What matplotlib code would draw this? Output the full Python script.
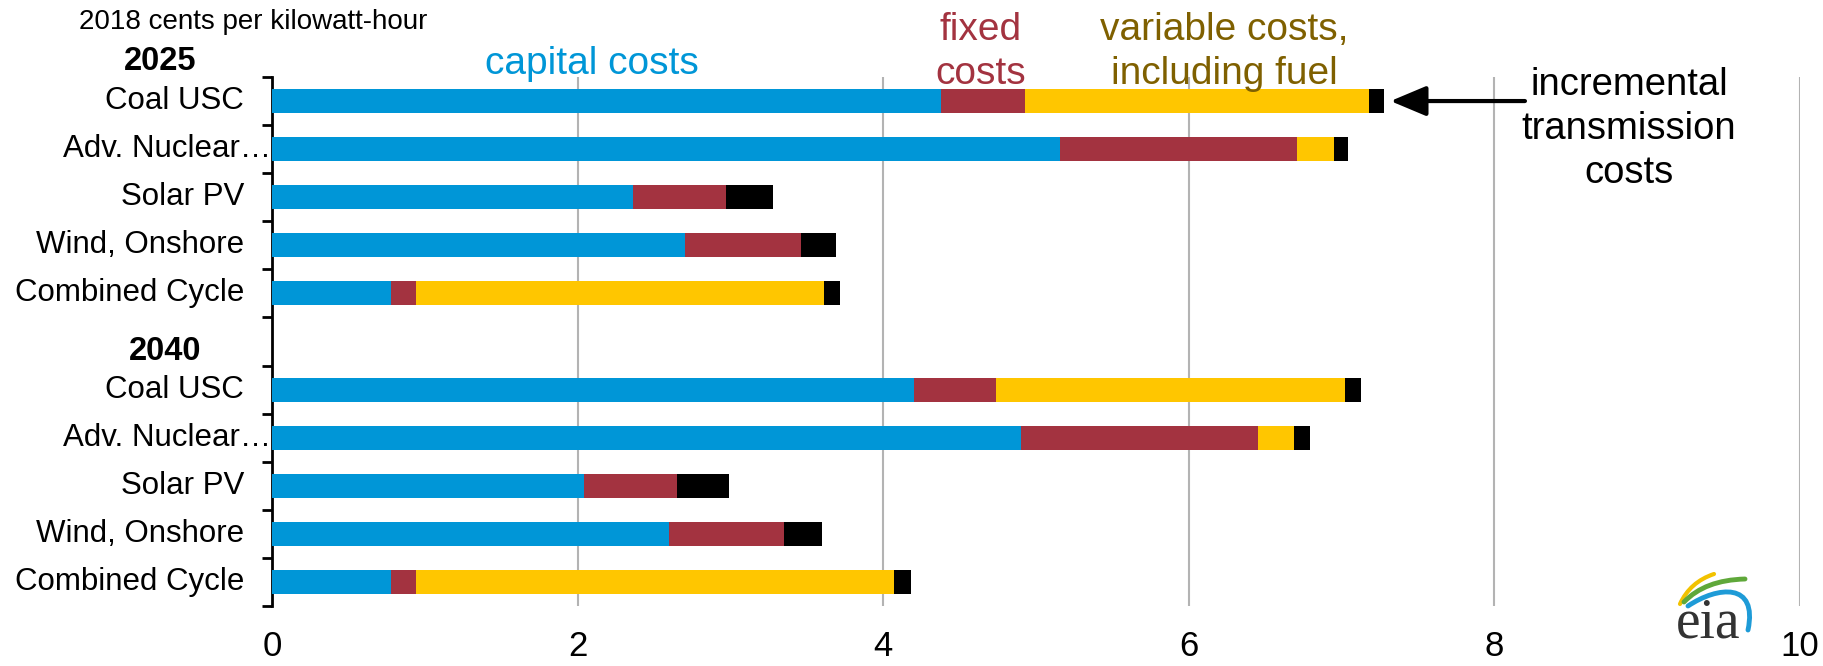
import matplotlib
matplotlib.use("Agg")
import matplotlib.pyplot as plt
import numpy as np
from matplotlib.path import Path
from matplotlib.patches import PathPatch
from matplotlib.transforms import IdentityTransform

plt.rcParams['font.family'] = ['Liberation Sans', 'DejaVu Sans']

# levelized cost components, 2018 cents per kWh
technologies = ['Coal USC', 'Adv. Nuclear…', 'Solar PV', 'Wind, Onshore', 'Combined Cycle']
years = ['2025', '2040']

capital_2025 = [4.38, 5.16, 2.36, 2.70, 0.78]
fixed_2025 = [0.55, 1.55, 0.61, 0.76, 0.16]
variable_2025 = [2.25, 0.24, 0.0, 0.0, 2.67]
transmission_2025 = [0.10, 0.09, 0.31, 0.23, 0.11]

capital_2040 = [4.20, 4.90, 2.04, 2.60, 0.78]
fixed_2040 = [0.54, 1.55, 0.61, 0.75, 0.16]
variable_2040 = [2.28, 0.24, 0.0, 0.0, 3.13]
transmission_2040 = [0.11, 0.10, 0.34, 0.25, 0.11]

x_ticks = [0, 2, 4, 6, 8, 10]

BLUE = '#0096D7'
RED = '#A33340'
YELLOW = '#FFC600'
BLACK = '#000000'

W, H = 1824, 666
fig = plt.figure(figsize=(W / 100, H / 100), dpi=100)
ax = fig.add_axes([272 / W, 60 / H, 1528 / W, 529 / H])

groups = [
    (capital_2025, fixed_2025, variable_2025, transmission_2025),
    (capital_2040, fixed_2040, variable_2040, transmission_2040),
]
colors = [BLUE, RED, YELLOW, BLACK]

for g, parts in enumerate(groups):
    pos = np.arange(len(technologies)) + g * (len(technologies) + 1)
    left = np.zeros(len(technologies))
    for vals, c in zip(parts, colors):
        vals = np.array(vals)
        ax.barh(pos, vals, left=left, height=0.5, color=c, zorder=3)
        left += vals
    for p, name in zip(pos, technologies):
        ax.annotate(name, xy=(0, p), xycoords=ax.get_yaxis_transform(),
                    xytext=(-28 if not name.startswith('Adv') else -1, 0),
                    textcoords='offset pixels', ha='right', va='center',
                    fontsize=22.5)

nslots = 2 * len(technologies) + 1
ax.set_ylim(nslots - 0.5, -0.5)
ax.set_xlim(0, 10)
ax.set_yticks(np.arange(-0.5, nslots, 1))
ax.set_yticklabels([])
ax.tick_params(axis='y', length=7, width=2, direction='out', color='black')
ax.set_xticks(x_ticks)
ax.set_xticklabels([str(t) for t in x_ticks], fontsize=25)
ax.tick_params(axis='x', length=0, pad=17)
ax.xaxis.grid(True, color='#B3B3B3', lw=1.5, zorder=0)
ax.set_axisbelow(True)
for s in ['top', 'right', 'bottom']:
    ax.spines[s].set_visible(False)
ax.spines['left'].set_linewidth(2)

def px(x, y):
    return x / W, 1 - y / H

fig.text(*px(79, 22), '2018 cents per kilowatt-hour', fontsize=20, va='center', ha='left')
fig.text(*px(160, 62), years[0], fontsize=23.5, fontweight='bold', ha='center', va='center')
fig.text(*px(165, 352), years[1], fontsize=23.5, fontweight='bold', ha='center', va='center')

fig.text(*px(592, 64), 'capital costs', fontsize=28, color=BLUE, ha='center', va='center')
fig.text(*px(981, 52), 'fixed\ncosts', fontsize=28, color=RED, ha='center', va='center',
         linespacing=1.32)
fig.text(*px(1224, 52), 'variable costs,\nincluding fuel', fontsize=28, color='#7F6000',
         ha='center', va='center', linespacing=1.32)
fig.text(*px(1629, 129), 'incremental\ntransmission\ncosts', fontsize=27.5, color='black',
         ha='center', va='center', linespacing=1.3)

coal_total = capital_2025[0] + fixed_2025[0] + variable_2025[0] + transmission_2025[0]
ax.annotate('', xy=(coal_total + 0.04, 0), xytext=(8.2, 0),
            arrowprops=dict(arrowstyle='-|>,head_length=1.0,head_width=0.42', color='black',
                            lw=3, mutation_scale=22, shrinkA=0, shrinkB=0),
            annotation_clip=False)

# eia logo
ident = IdentityTransform()
def curve(pts, color, lw):
    pts = [(x, H - y) for x, y in pts]
    codes = [Path.MOVETO] + [Path.CURVE4] * 3 if len(pts) == 4 else [Path.MOVETO] + [Path.CURVE3] * 2
    fig.add_artist(PathPatch(Path(pts, codes), fill=False, edgecolor=color, lw=lw,
                             transform=ident, capstyle='round'))

curve([(1680, 604), (1690, 582), (1714, 574)], '#F2C200', 3)
curve([(1684, 602), (1705, 580), (1745, 579)], '#5FA83A', 3.5)
curve([(1688, 606), (1718, 586), (1758, 582), (1748, 630)], '#1E9BD7', 3.5)
fig.text(1708, H - 638, 'eia', fontsize=40, family='Liberation Serif', color='#333333',
         ha='center', va='baseline', transform=ident)

fig.savefig('out.png', dpi=100)
